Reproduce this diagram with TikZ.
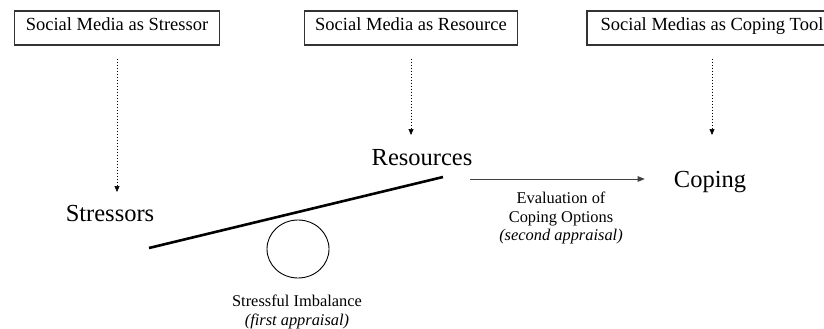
\documentclass[tikz,border=0pt]{standalone}
\usepackage{fontspec}
\setmainfont{Liberation Serif}
\usetikzlibrary{arrows.meta,shapes.geometric}
\begin{document}
\begin{tikzpicture}[x=1pt,y=-1pt,
  mediabox/.style={draw=black!80, line width=1.1pt, minimum height=34pt,
    inner xsep=11pt, font=\fontsize{18.5}{22}\selectfont,
    text height=0.7em, text depth=0.22em},
  bigterm/.style={font=\fontsize{24.5}{28}\selectfont, inner sep=0pt, anchor=base},
  note/.style={font=\fontsize{16.4}{18.5}\selectfont, align=center, inner sep=0pt},
  feed/.style={dash pattern=on 1.5pt off 1.5pt, line width=0.6pt,
    -{Triangle[length=6pt,width=5pt]}},
  flow/.style={line width=0.7pt, draw=black!75,
    -{Triangle[length=7pt,width=5.5pt]}}]
\clip (0,0) rectangle (824,329);
\useasboundingbox (0,0) rectangle (824,329);

% top row: the three roles of social media
\node[mediabox] (m1) at (117,28) {Social Media as Stressor};
\node[mediabox] (m2) at (411,28) {Social Media as Resource};
\node[mediabox, minimum width=250pt] (m3) at (712,28) {Social Medias as Coping Tool};

% main terms
\node[bigterm] (stress) at (110,221) {Stressors};
\node[bigterm] (res) at (422,165) {Resources};
\node[bigterm] (cope) at (710,187) {Coping};

% the balance: beam over a pivot
\coordinate (beamL) at (149,248);
\coordinate (beamR) at (443,177);
\draw[line width=2.6pt] (beamL) -- (beamR);
\node[draw, ellipse, line width=0.9pt, minimum width=62pt, minimum height=58pt,
  inner sep=0pt] (pivot) at (298,249) {};

% explanatory notes
\node[note, anchor=north] (imb) at (297,295)
  {Stressful Imbalance\\\textit{(first appraisal)}};
\node[note, anchor=north] (eval) at (561,192)
  {Evaluation of\\Coping Options\\\textit{(second appraisal)}};

% dotted influences from the top boxes
\coordinate (t1) at (117,192);
\coordinate (t2) at (411,135);
\coordinate (t3) at (712,135);
\draw[feed, shorten <=13pt] (m1.south) -- (t1);
\draw[feed, shorten <=13pt] (m2.south) -- (t2);
\draw[feed, shorten <=13pt] (m3.south) -- (t3);

% evaluation arrow towards coping
\coordinate (evA) at (470,179);
\draw[flow, shorten >=29pt] (evA) -- (evA -| cope.west);
\end{tikzpicture}
\end{document}
